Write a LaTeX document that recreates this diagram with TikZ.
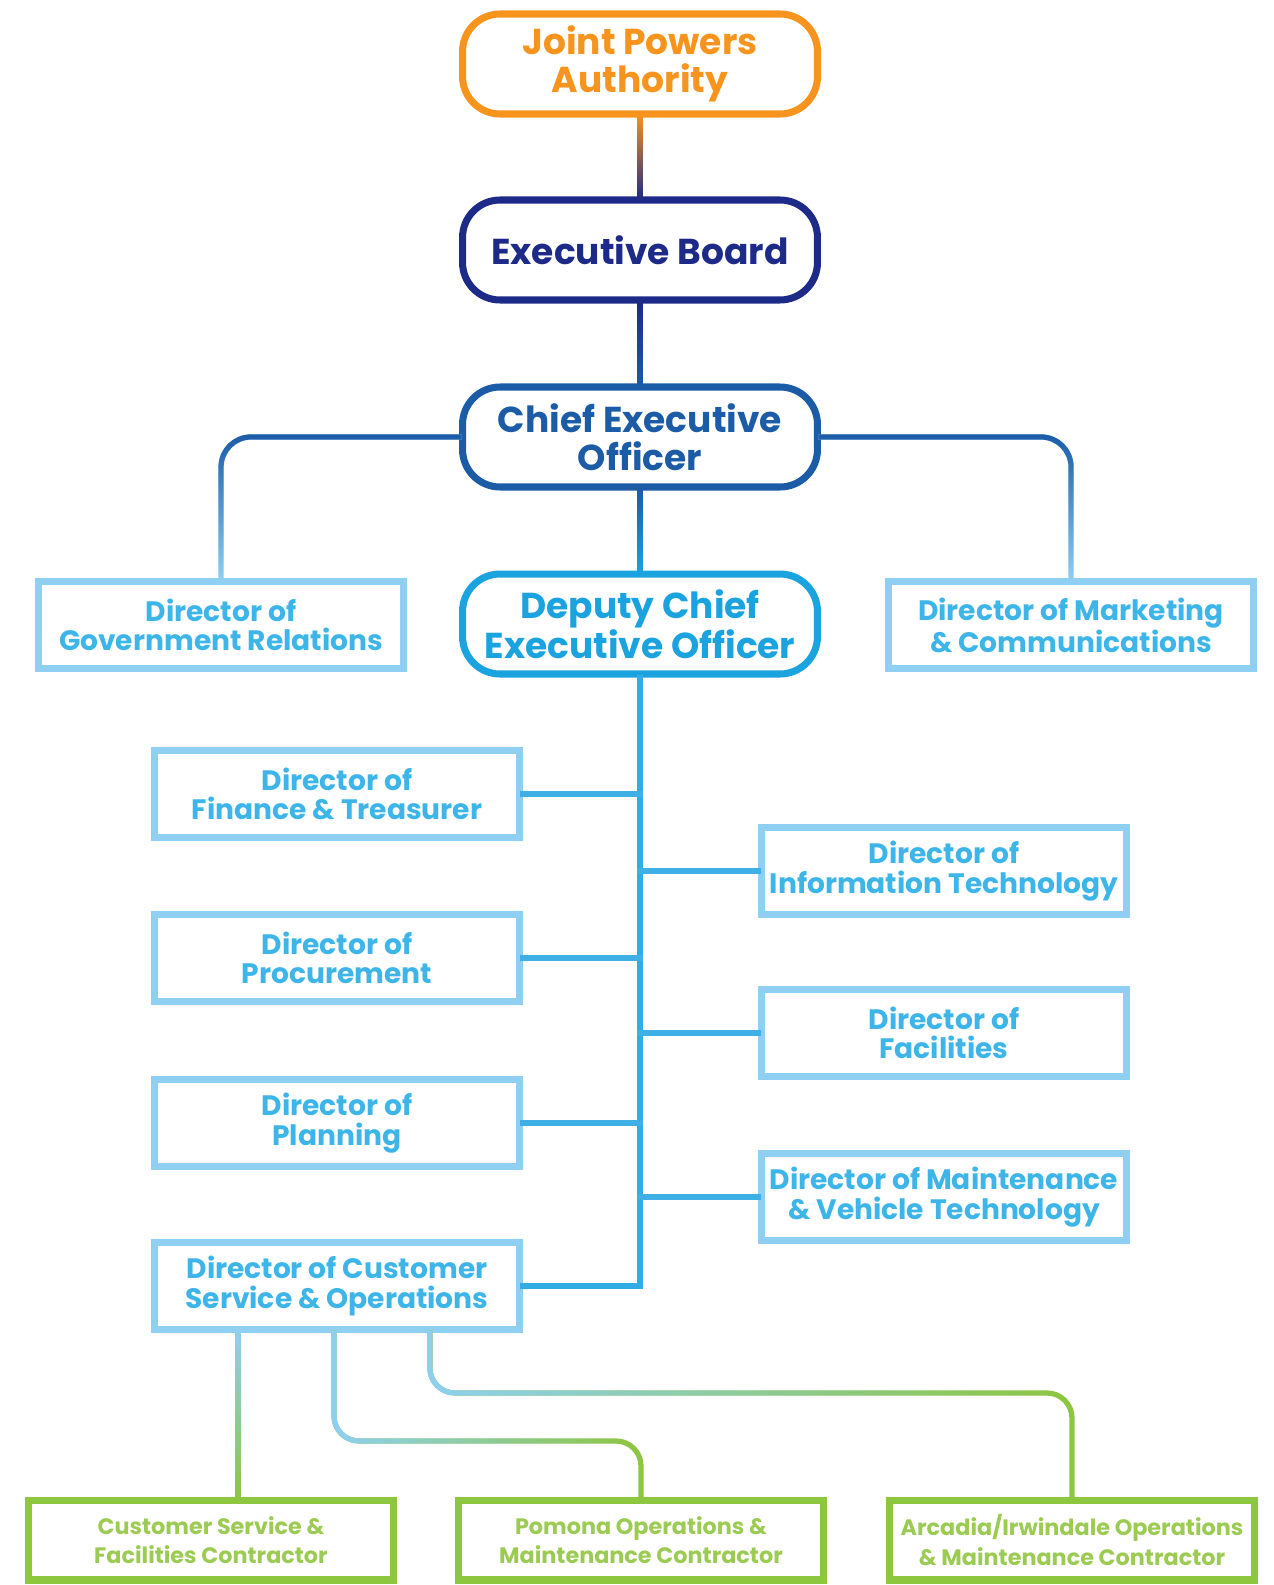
\documentclass[tikz,border=0pt]{standalone}
\usepackage{fontspec}
\setmainfont{Poppins}
\usetikzlibrary{fadings}
\definecolor{jpaorange}{HTML}{F7941D}
\definecolor{boardnavy}{HTML}{1E2A87}
\definecolor{ceoblue}{HTML}{1C5CA7}
\definecolor{dceoblue}{HTML}{1BA3E0}
\definecolor{dirline}{HTML}{8FD0F2}
\definecolor{dirtext}{HTML}{3DB5E8}
\definecolor{contgreen}{HTML}{8DC63F}
\definecolor{conttext}{HTML}{9BCB52}
\tikzset{
  topbox/.style={draw=#1,text=#1,line width=4pt,rounded corners=0.75cm,minimum width=7.1cm,minimum height=2.0cm,align=center,font=\fontsize{20.5}{21.5}\selectfont\bfseries},
  dirbox/.style={draw=dirline,text=dirtext,line width=4pt,minimum width=7.3cm,minimum height=1.75cm,align=center,font=\fontsize{16}{16.7}\selectfont\bfseries},
  contbox/.style={draw=contgreen,text=conttext,line width=4pt,minimum width=7.3cm,minimum height=1.6cm,align=center,font=\fontsize{12.7}{16.7}\selectfont\bfseries},
  conn/.style={line width=3pt,line cap=rect}
}
\begin{document}
\begin{tikzpicture}[x=0.02cm,y=-0.02cm]
\useasboundingbox (0,0) rectangle (1274,1585);
% top of the chart
\node[topbox=jpaorange] (jpa) at (640,64) {Joint Powers\\Authority};
\node[topbox=boardnavy] (board) at (640,250) {Executive Board};
\node[topbox=ceoblue] (ceo) at (640,437) {Chief Executive\\Officer};
\node[topbox=dceoblue] (dceo) at (640,624) {Deputy Chief\\Executive Officer};
\node[dirbox] (gov) at (221,625) {Director of\\Government Relations};
\node[dirbox] (mkt) at (1071,625) {Director of Marketing\\\& Communications};
% directors under the deputy
\node[dirbox] (fin) at (337,794) {Director of\\Finance \& Treasurer};
\node[dirbox] (proc) at (337,958) {Director of\\Procurement};
\node[dirbox] (plan) at (337,1123) {Director of\\Planning};
\node[dirbox] (cust) at (337,1286) {Director of Customer\\Service \& Operations};
\node[dirbox] (it) at (944,871) {Director of\\Information Technology};
\node[dirbox] (fac) at (944,1033) {Director of\\Facilities};
\node[dirbox] (maint) at (944,1197) {Director of Maintenance\\\& Vehicle Technology};
% contractors
\node[contbox] (csf) at (211,1540) {Customer Service \&\\Facilities Contractor};
\node[contbox] (pom) at (641,1540) {Pomona Operations \&\\Maintenance Contractor};
\node[contbox] (arc) at (1072,1540) {Arcadia/Irwindale Operations\\\& Maintenance Contractor};
\coordinate (d1) at ([xshift=-1.98cm]cust.south);
\coordinate (d2) at ([xshift=-0.06cm]cust.south);
\coordinate (d3) at ([xshift=1.86cm]cust.south);
\coordinate (lvlP) at (0,1441);
\coordinate (lvlA) at (0,1393);
% connectors
\draw[conn,boardnavy] (jpa) -- (board);
\draw[conn,jpaorange,path fading=south] (jpa) -- (board);
\draw[conn,ceoblue] (board) -- (ceo);
\draw[conn,boardnavy,path fading=south] (board) -- (ceo);
\draw[conn,dceoblue] (ceo) -- (dceo);
\draw[conn,ceoblue,path fading=south] (ceo) -- (dceo);
\draw[conn,dirline,rounded corners=0.6cm] (ceo.west) -| (gov.north);
\draw[conn,ceoblue,rounded corners=0.6cm,path fading=south] (ceo.west) -| (gov.north);
\draw[conn,dirline,rounded corners=0.6cm] (ceo.east) -| (mkt.north);
\draw[conn,ceoblue,rounded corners=0.6cm,path fading=south] (ceo.east) -| (mkt.north);
\draw[conn,dceoblue!80!dirline] (dceo.south) |- (cust.east);
\foreach \d in {fin,proc,plan}
  \draw[conn,dceoblue!70!dirline] (\d.east) -- (\d.east -| dceo.south);
\foreach \d in {it,fac,maint}
  \draw[conn,dceoblue!70!dirline] (\d.west) -- (\d.west -| dceo.south);
\draw[conn,contgreen] (d1) -- (d1 |- csf.north);
\draw[conn,dirline,path fading=south] (d1) -- (d1 |- csf.north);
\draw[conn,contgreen,rounded corners=0.5cm] (d2) -- (d2 |- lvlP) -| (pom.north);
\draw[conn,dirline,rounded corners=0.5cm,path fading=east] (d2) -- (d2 |- lvlP) -| (pom.north);
\draw[conn,contgreen,rounded corners=0.5cm] (d3) -- (d3 |- lvlA) -| (arc.north);
\draw[conn,dirline,rounded corners=0.5cm,path fading=east] (d3) -- (d3 |- lvlA) -| (arc.north);
\end{tikzpicture}
\end{document}
